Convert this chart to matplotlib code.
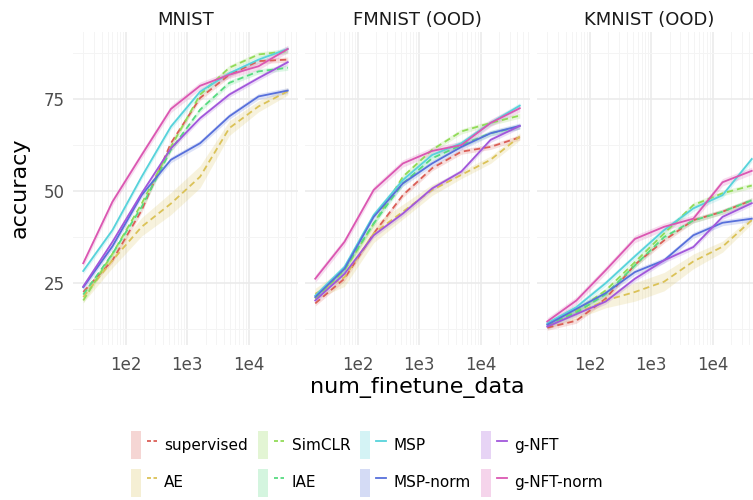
import numpy as np
import matplotlib
matplotlib.use("Agg")
import matplotlib.pyplot as plt
import seaborn as sns
from matplotlib.patches import Patch
from matplotlib.lines import Line2D
from matplotlib.legend_handler import HandlerTuple
from matplotlib.ticker import LogLocator, MultipleLocator, NullFormatter

plt.rcParams['font.family'] = ['DejaVu Sans']

num_finetune = [20, 60, 180, 540, 1620, 4860, 14580, 43740]
methods = ["supervised", "AE", "SimCLR", "IAE", "MSP", "MSP-norm", "g-NFT", "g-NFT-norm"]
panels = ["MNIST", "FMNIST (OOD)", "KMNIST (OOD)"]

# accuracy per method
mnist = {
    "supervised": [22.6, 31.2, 44.8, 63.0, 75.3, 81.6, 85.3, 85.7],
    "AE":         [21.2, 31.2, 40.3, 46.6, 53.9, 67.1, 73.0, 77.1],
    "SimCLR":     [20.3, 33.0, 46.6, 62.0, 76.2, 83.5, 87.1, 88.0],
    "IAE":        [21.9, 33.0, 45.7, 61.2, 72.1, 79.4, 82.5, 83.5],
    "MSP":        [28.3, 39.4, 53.9, 67.5, 77.0, 82.0, 85.7, 88.6],
    "MSP-norm":   [23.9, 35.0, 48.9, 58.5, 63.0, 70.3, 75.7, 77.3],
    "g-NFT":      [24.1, 36.2, 49.4, 61.6, 69.8, 76.2, 80.7, 85.0],
    "g-NFT-norm": [30.4, 47.1, 59.8, 72.3, 78.6, 81.6, 83.9, 88.6],
}
fmnist = {
    "supervised": [19.5, 26.2, 38.5, 48.9, 56.2, 60.7, 62.0, 64.6],
    "AE":         [22.1, 26.6, 38.5, 44.4, 50.3, 54.4, 58.5, 64.8],
    "SimCLR":     [20.7, 28.5, 41.2, 53.9, 61.2, 66.2, 68.5, 70.5],
    "IAE":        [21.2, 28.9, 41.2, 52.1, 58.9, 62.5, 65.7, 67.5],
    "MSP":        [21.6, 29.4, 43.5, 53.0, 59.8, 63.0, 68.5, 73.2],
    "MSP-norm":   [21.2, 28.9, 43.0, 52.1, 57.5, 62.0, 65.7, 67.7],
    "g-NFT":      [20.3, 27.5, 38.0, 43.9, 50.7, 55.3, 63.9, 67.7],
    "g-NFT-norm": [26.2, 36.2, 50.3, 57.5, 60.9, 62.5, 68.5, 72.5],
}
kmnist = {
    "supervised": [12.9, 14.8, 20.8, 30.0, 36.6, 42.1, 44.4, 47.5],
    "AE":         [13.5, 16.8, 20.3, 22.6, 25.4, 30.9, 34.9, 42.1],
    "SimCLR":     [13.7, 17.5, 23.0, 30.7, 38.5, 46.2, 49.4, 51.5],
    "IAE":        [13.7, 17.0, 22.0, 29.8, 37.5, 42.0, 44.4, 47.5],
    "MSP":        [14.1, 18.5, 25.0, 32.3, 39.4, 45.3, 48.9, 58.7],
    "MSP-norm":   [13.7, 18.0, 22.3, 28.0, 31.2, 38.0, 41.4, 42.5],
    "g-NFT":      [13.2, 16.6, 20.0, 26.2, 31.2, 34.8, 43.0, 46.7],
    "g-NFT-norm": [14.6, 20.3, 28.5, 37.0, 40.3, 42.5, 52.4, 55.5],
}

# half width of the shaded bands
band = {"supervised": 0.7, "SimCLR": 0.7, "IAE": 0.7, "MSP": 0.8,
        "MSP-norm": 0.8, "g-NFT": 0.7, "g-NFT-norm": 1.0}
ae_band_mnist = [1.5, 2.0, 2.5, 3.0, 3.0, 2.0, 1.5, 1.0]
ae_band_fmnist = [1.5, 2.5, 2.5, 2.0, 1.5, 1.0, 1.0, 1.0]
ae_band_kmnist = [1.0, 1.5, 2.0, 2.5, 2.5, 2.0, 1.5, 1.0]

colors = dict(zip(methods, sns.color_palette("hls", 8)))
dashed = ["supervised", "AE", "SimCLR", "IAE"]

W, H = 753, 500
fig = plt.figure(figsize=(W / 100, H / 100), dpi=100)

x = np.array(num_finetune)
lefts = [73, 305, 537]
for i, (name, data, ae_band) in enumerate(zip(panels,
                                              [mnist, fmnist, kmnist],
                                              [ae_band_mnist, ae_band_fmnist, ae_band_kmnist])):
    ax = fig.add_axes([lefts[i] / W, 1 - 345 / H, 225 / W, 313 / H])
    for m in methods:
        y = np.array(data[m])
        b = np.array(ae_band) if m == "AE" else band[m]
        c = colors[m]
        ax.fill_between(x, y - b, y + b, color=c, alpha=0.2, lw=0)
        ax.plot(x, y, color=c, lw=1.3,
                ls=(0, (3.5, 2.2)) if m in dashed else "-")
    ax.set_xscale("log")
    ax.set_xlim(10 ** 1.134, 10 ** 4.808)
    ax.set_ylim(8.2, 93.2)
    ax.set_xticks([100, 1000, 10000])
    ax.set_xticklabels(["1e2", "1e3", "1e4"])
    ax.xaxis.set_minor_locator(LogLocator(base=10, subs=np.arange(2, 10)))
    ax.xaxis.set_minor_formatter(NullFormatter())
    ax.set_yticks([25, 50, 75])
    ax.yaxis.set_minor_locator(MultipleLocator(12.5))
    if i > 0:
        ax.set_yticklabels([])
    ax.grid(which="major", color="#EBEBEB", lw=1.2)
    ax.grid(which="minor", color="#F4F4F4", lw=0.7)
    ax.set_axisbelow(True)
    for s in ax.spines.values():
        s.set_visible(False)
    ax.tick_params(which="both", length=0, labelsize=12, labelcolor="#4D4D4D")
    ax.tick_params(axis="x", pad=8)
    ax.tick_params(axis="y", pad=6)
    ax.set_title(name, fontsize=13, color="#1A1A1A", pad=5)

fig.text(417 / W, 1 - 387 / H, "num_finetune_data", fontsize=16,
         ha="center", va="center")
fig.text(20 / W, 1 - 188 / H, "accuracy", fontsize=16, rotation=90,
         ha="center", va="center")

handles = [(Patch(facecolor=colors[m], alpha=0.25, lw=0),
            Line2D([], [], color=colors[m], lw=1.3,
                   ls=(0, (2.2, 1.4)) if m in dashed else "-")) for m in methods]
fig.legend(handles, methods, handler_map={tuple: HandlerTuple(ndivide=None)},
           ncol=4, loc="center", bbox_to_anchor=(367 / W, 1 - 464 / H),
           frameon=False, fontsize=11, handlelength=1.7, handleheight=2.4,
           labelspacing=0.65, columnspacing=0.65, handletextpad=0.5)

fig.savefig("out.png", dpi=100)
